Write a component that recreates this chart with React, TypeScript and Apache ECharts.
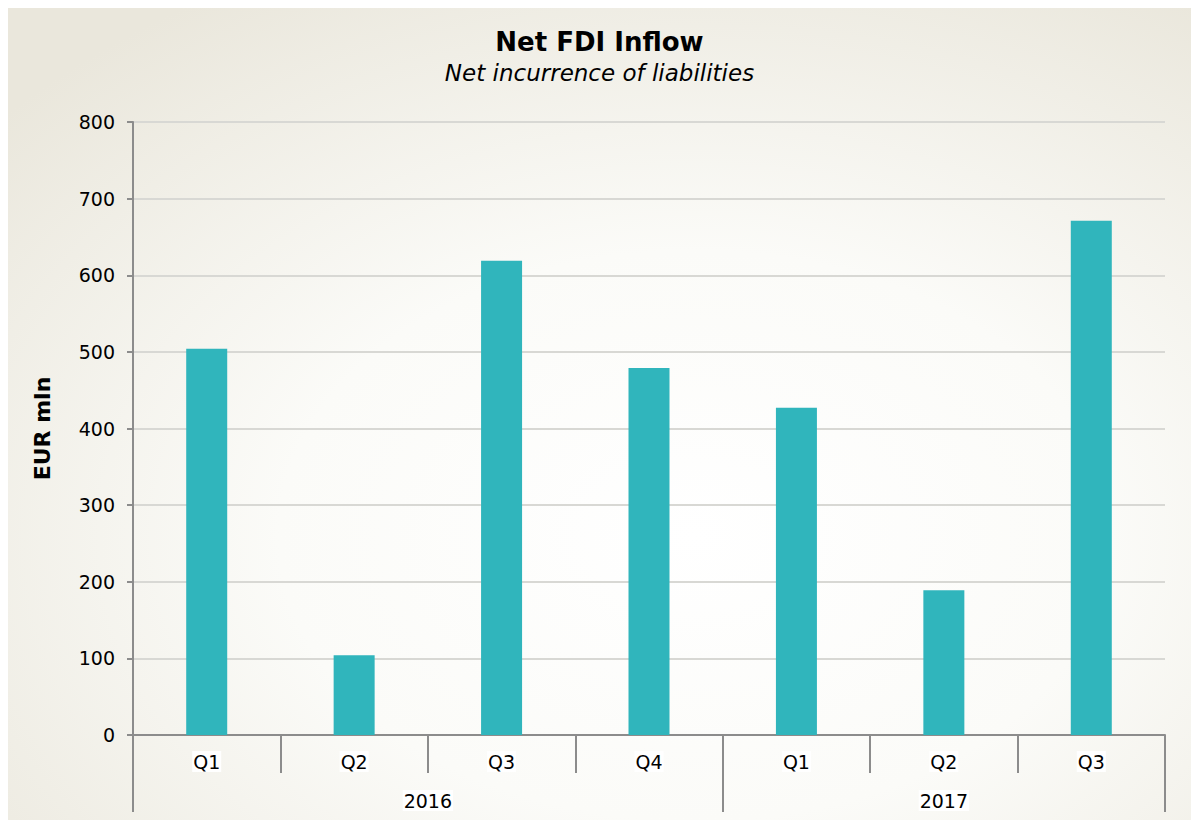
import React, { useEffect, useRef } from "react";
import * as echarts from "echarts";

const quarters = ["Q1", "Q2", "Q3", "Q4", "Q1", "Q2", "Q3"];
const values = [504, 104, 619, 479, 427, 189, 671];
const years = ["2016", "2017"];
// year label positions on a 15-point half-step scale (0..7 in steps of 0.5)
const yearLabelIndex = [4, 11];
const yearTickIndex = [0, 8, 14];
const yTicks = { min: 0, max: 800, interval: 100 };

export default function App() {
  const ref = useRef<HTMLDivElement>(null);
  useEffect(() => {
    if (!ref.current) return;
    const chart = echarts.init(ref.current, null, { renderer: "svg" });
    const halfSteps: string[] = [];
    for (let i = 0; i < 15; i++) {
      const yi = yearLabelIndex.indexOf(i);
      halfSteps.push(yi >= 0 ? years[yi] : "h" + i);
    }
    const font = "DejaVu Sans";
    chart.setOption({
      animation: false,
      backgroundColor: {
        type: "radial",
        x: 0.58,
        y: 0.65,
        r: 0.78,
        colorStops: [
          { offset: 0, color: "#ffffff" },
          { offset: 0.45, color: "#fbfbf8" },
          { offset: 1, color: "#eae7dc" },
        ],
      },
      title: {
        text: "Net FDI Inflow",
        subtext: "Net incurrence of liabilities",
        left: "center",
        top: 16,
        itemGap: 6,
        textStyle: { fontFamily: font, fontWeight: "bold", fontSize: 26, color: "#000" },
        subtextStyle: { fontFamily: font, fontStyle: "italic", fontSize: 23, color: "#000" },
      },
      grid: { left: 125, right: 26, top: 114, bottom: 85 },
      xAxis: [
        {
          type: "category",
          data: quarters,
          position: "bottom",
          boundaryGap: true,
          axisLine: { show: true, lineStyle: { color: "#8c8c8c", width: 2 } },
          axisTick: { show: true, length: 38, alignWithLabel: false, lineStyle: { color: "#8c8c8c", width: 2 } },
          axisLabel: {
            margin: 16,
            fontFamily: font,
            fontSize: 19,
            color: "#000",
            backgroundColor: "#ffffff",
            padding: [1, 1],
          },
          splitLine: { show: false },
        },
        {
          type: "category",
          data: halfSteps,
          position: "bottom",
          offset: 38,
          boundaryGap: false,
          axisLine: { show: false },
          axisTick: {
            show: true,
            length: 39,
            interval: (i: number) => yearTickIndex.indexOf(i) >= 0,
            lineStyle: { color: "#8c8c8c", width: 2 },
          },
          axisLabel: {
            margin: 17,
            interval: (i: number) => yearLabelIndex.indexOf(i) >= 0,
            fontFamily: font,
            fontSize: 19,
            color: "#000",
            backgroundColor: "#ffffff",
            padding: [1, 1],
          },
          splitLine: { show: false },
        },
      ],
      yAxis: {
        type: "value",
        min: yTicks.min,
        max: yTicks.max,
        interval: yTicks.interval,
        name: "EUR mln",
        nameLocation: "middle",
        nameGap: 80,
        nameRotate: 90,
        nameTextStyle: { fontFamily: font, fontWeight: "bold", fontSize: 22, color: "#000" },
        axisLine: { show: true, lineStyle: { color: "#8c8c8c", width: 2 } },
        axisTick: { show: true, length: 6, lineStyle: { color: "#8c8c8c", width: 2 } },
        axisLabel: { margin: 18, fontFamily: font, fontSize: 19, color: "#000" },
        splitLine: { show: true, lineStyle: { color: "#d8d8d4", width: 2 } },
      },
      series: [
        {
          type: "bar",
          xAxisIndex: 0,
          data: values,
          barWidth: 41,
          itemStyle: { color: "#30b5bc" },
        },
      ],
    });
    return () => chart.dispose();
  }, []);
  return (
    <div
      ref={ref}
      style={{ position: "absolute", left: 8, top: 8, width: 1183, height: 812 }}
    />
  );
}
